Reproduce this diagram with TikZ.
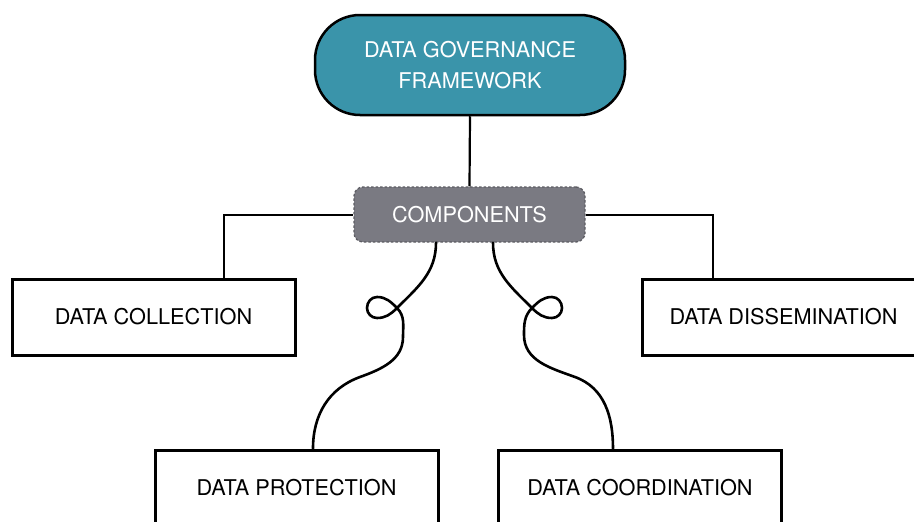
\documentclass[tikz,border=0pt]{standalone}
\usepackage{fontspec}
\setmainfont{TeX Gyre Heros}
\usepackage{xcolor}
\usetikzlibrary{shapes,arrows,positioning}

\definecolor{govteal}{RGB}{58,148,170}
\definecolor{compgray}{RGB}{122,122,130}
\definecolor{compline}{RGB}{92,92,98}

\begin{document}
\begin{tikzpicture}[x=1pt,y=1pt, every node/.style = {align=center,
        font=\fontsize{21.7}{31}\selectfont},
    headbox/.style = {rectangle, rounded corners=45pt, draw=black,
        line width=2.5pt, fill=govteal, text=white,
        minimum width=310pt, minimum height=100pt},
    compbox/.style = {rectangle, rounded corners=9pt, draw=compline,
        dash pattern=on 2.5pt off 2pt, line width=1.3pt, fill=compgray,
        text=white, minimum width=231pt, minimum height=55pt},
    leafbox/.style = {rectangle, draw=black, line width=3pt, fill=white,
        minimum width=283pt, minimum height=76pt},
    elbow/.style = {draw=black, line width=2pt},
    curly/.style = {draw=black, line width=2.6pt, line cap=round}]
    \useasboundingbox (0,0) rectangle (914,-522);

    \node [headbox] (head) at (470,-65) {DATA GOVERNANCE\\FRAMEWORK};
    \node [compbox] (comp) at (469.5,-214.5) {COMPONENTS};
    \node [leafbox] (coll) at (153.5,-317) {DATA COLLECTION};
    \node [leafbox] (diss) at (783.5,-317) {DATA DISSEMINATION};
    \node [leafbox] (prot) at (296.5,-488) {DATA PROTECTION};
    \node [leafbox] (coord) at (640,-488) {DATA COORDINATION};

    \draw [line width=2.2pt] (head.south) -- (comp.north);
    \draw [elbow] (comp.west) -| ([xshift=70.5pt]coll.north);
    \draw [elbow] (comp.east) -| ([xshift=-70.5pt]diss.north);

    % looped links down to the lower boxes
    \draw [curly] ([xshift=-33.5pt]comp.south)
        to[out=-90,in=45] (397,-308) to[out=-135,in=0] (377,-318)
        to[out=180,in=-90] (367,-308) to[out=90,in=180] (377,-297)
        to[out=0,in=135] (397,-308) to[out=-45,in=90] (403,-337)
        to[out=-90,in=20] (360,-377)
        to[out=200,in=90] ([xshift=16.5pt]prot.north);
    \draw [curly] ([xshift=23.5pt]comp.south)
        to[out=-90,in=135] (532,-308) to[out=-45,in=180] (552,-318)
        to[out=0,in=-90] (562,-308) to[out=90,in=0] (552,-297)
        to[out=180,in=45] (532,-308) to[out=-135,in=90] (524,-335)
        to[out=-90,in=160] (575,-377)
        to[out=-20,in=90] ([xshift=-27pt]coord.north);
\end{tikzpicture}
\end{document}
